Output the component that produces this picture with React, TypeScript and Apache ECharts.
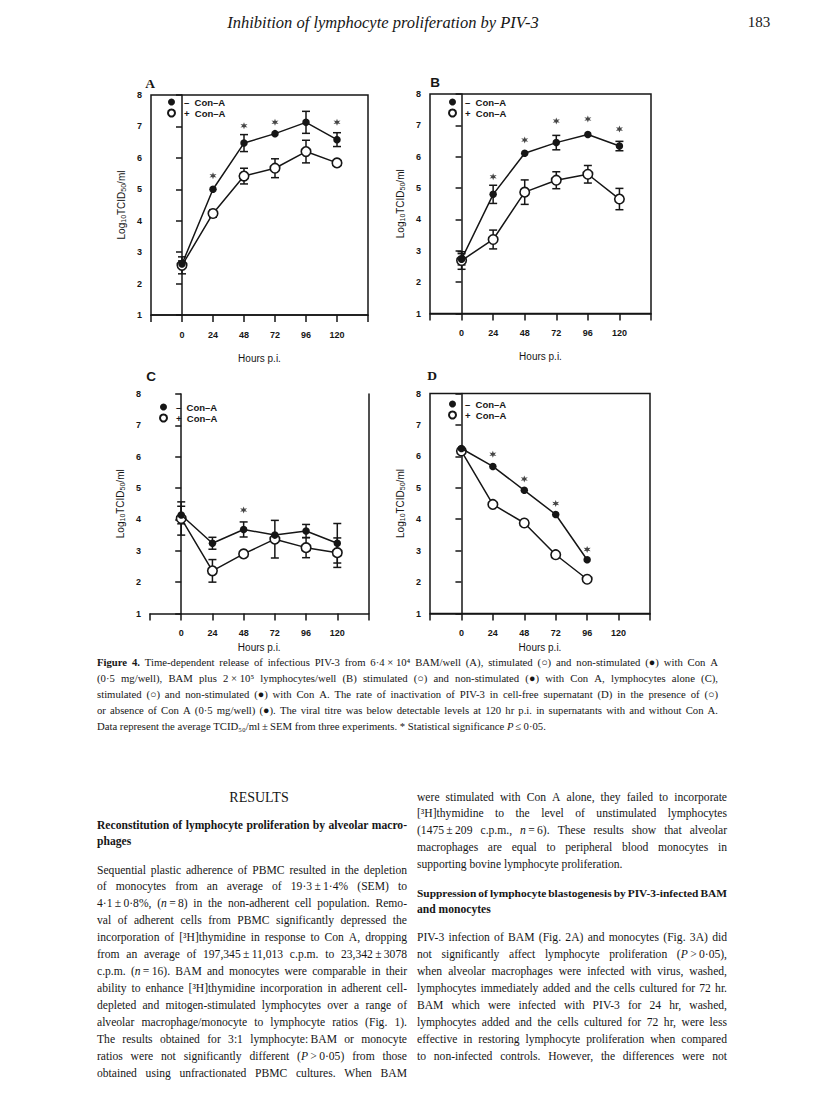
import React, { useEffect, useRef } from "react";
import * as echarts from "echarts";

// ---------------- DATA ----------------
const HOURS = [0, 24, 48, 72, 96, 120];
const HOURS_D = [0, 24, 48, 72, 96];
const X_TICK_LABELS = ["0", "24", "48", "72", "96", "120"];

const A_MINUS = [2.62, 5.0, 6.47, 6.77, 7.13, 6.58];
const A_MINUS_ERR = [0.1, 0, 0.27, 0, 0.35, 0.22];
const A_PLUS = [2.58, 4.23, 5.42, 5.67, 6.2, 5.84];
const A_PLUS_ERR = [0.27, 0.12, 0.25, 0.3, 0.36, 0];
const A_STARS = [[24, 5.43], [48, 7.02], [72, 7.13], [120, 7.13]];

const B_MINUS = [2.73, 4.8, 6.11, 6.45, 6.71, 6.34];
const B_MINUS_ERR = [0.18, 0.29, 0, 0.23, 0, 0.15];
const B_PLUS = [2.69, 3.36, 4.87, 5.25, 5.44, 4.65];
const B_PLUS_ERR = [0.28, 0.3, 0.39, 0.27, 0.28, 0.34];
const B_STARS = [[24, 5.36], [48, 6.53], [72, 7.14], [96, 7.2], [120, 6.88]];

const C_MINUS = [4.14, 3.24, 3.68, 3.5, 3.63, 3.24];
const C_MINUS_ERR = [0.28, 0.19, 0.24, 0, 0.21, 0.63];
const C_PLUS = [4.03, 2.36, 2.9, 3.37, 3.1, 2.94];
const C_PLUS_ERR = [0.53, 0.36, 0, 0.6, 0.32, 0.47];
const C_STARS = [[48, 4.3]];

const D_MINUS = [6.25, 5.68, 4.92, 4.15, 2.71];
const D_PLUS = [6.17, 4.47, 3.88, 2.87, 2.09];
const D_STARS = [[24, 6.07], [48, 5.28], [72, 4.5], [96, 3.04]];

const SERIES_MINUS = "–  Con–A";
const SERIES_PLUS = "+  Con–A";

const HEADER = "Inhibition of lymphocyte proliferation by PIV-3";
const PAGE_NO = "183";

const CAPTION = [
  "{b|Figure} {b|4.} Time-dependent release of infectious PIV-3 from 6·4\u00a0×\u00a010⁴ BAM/well (A), stimulated (○) and non-stimulated (●) with Con A",
  "(0·5 mg/well), BAM plus 2\u00a0×\u00a010⁵ lymphocytes/well (B) stimulated (○) and non-stimulated (●) with Con A, lymphocytes alone (C),",
  "stimulated (○) and non-stimulated (●) with Con A. The rate of inactivation of PIV-3 in cell-free supernatant (D) in the presence of (○)",
  "or absence of Con A (0·5 mg/well) (●). The viral titre was below detectable levels at 120 hr p.i. in supernatants with and without Con A.",
  "Data represent the average TCID₅₀/ml\u2009±\u2009SEM from three experiments. * Statistical significance {i|P}\u2009≤\u20090·05.",
];

const LEFT_HEAD = ["Reconstitution of lymphocyte proliferation by alveolar macro-", "phages"];
const LEFT_PARA = [
  "Sequential plastic adherence of PBMC resulted in the depletion",
  "of monocytes from an average of 19·3\u2009±\u20091·4% (SEM) to",
  "4·1\u2009±\u20090·8%, ({i|n}\u2009=\u20098) in the non-adherent cell population. Remo-",
  "val of adherent cells from PBMC significantly depressed the",
  "incorporation of [³H]thymidine in response to Con A, dropping",
  "from an average of 197,345\u2009±\u200911,013 c.p.m. to 23,342\u2009±\u20093078",
  "c.p.m. ({i|n}\u2009=\u200916). BAM and monocytes were comparable in their",
  "ability to enhance [³H]thymidine incorporation in adherent cell-",
  "depleted and mitogen-stimulated lymphocytes over a range of",
  "alveolar macrophage/monocyte to lymphocyte ratios (Fig. 1).",
  "The results obtained for 3:1 lymphocyte:\u2009BAM or monocyte",
  "ratios were not significantly different ({i|P}\u2009>\u20090·05) from those",
  "obtained using unfractionated PBMC cultures. When BAM",
];
const RIGHT_TOP = [
  "were stimulated with Con A alone, they failed to incorporate",
  "[³H]thymidine to the level of unstimulated lymphocytes",
  "(1475\u2009±\u2009209 c.p.m., {i|n}\u2009=\u20096). These results show that alveolar",
  "macrophages are equal to peripheral blood monocytes in",
  "supporting bovine lymphocyte proliferation.",
];
const RIGHT_HEAD = ["Suppression of lymphocyte blastogenesis by PIV-3-infected BAM", "and monocytes"];
const RIGHT_PARA = [
  "PIV-3 infection of BAM (Fig. 2A) and monocytes (Fig. 3A) did",
  "not significantly affect lymphocyte proliferation ({i|P}\u2009>\u20090·05),",
  "when alveolar macrophages were infected with virus, washed,",
  "lymphocytes immediately added and the cells cultured for 72 hr.",
  "BAM which were infected with PIV-3 for 24 hr, washed,",
  "lymphocytes added and the cells cultured for 72 hr, were less",
  "effective in restoring lymphocyte proliferation when compared",
  "to non-infected controls. However, the differences were not",
];

// ---------------- STYLE ----------------
const SERIF = '"Liberation Serif", "Times New Roman", serif';
const SANS = '"Liberation Sans", Arial, sans-serif';
const INK = "#161616";

// asterisk symbol
const starPts: string[] = [];
for (let k = 0; k < 12; k++) {
  const a = ((k * 30 - 90) * Math.PI) / 180;
  const r = k % 2 === 0 ? 10 : 4.2;
  starPts.push(`${(r * Math.cos(a)).toFixed(2)},${(r * Math.sin(a)).toFixed(2)}`);
}
const STAR = "path://M" + starPts.join(" L") + " Z";

// ---------------- TEXT LAYOUT ----------------
type Seg = { t: string; italic?: boolean; bold?: boolean };
let measureCtx: CanvasRenderingContext2D | null = null;
function measure(text: string, font: string) {
  if (!measureCtx) measureCtx = document.createElement("canvas").getContext("2d");
  measureCtx!.font = font;
  return measureCtx!.measureText(text).width;
}
function parseWord(w: string, baseBold: boolean): Seg[] {
  const segs: Seg[] = [];
  const re = /\{(i|b)\|([^}]*)\}/g;
  let last = 0;
  let m: RegExpExecArray | null;
  while ((m = re.exec(w))) {
    if (m.index > last) segs.push({ t: w.slice(last, m.index), bold: baseBold });
    segs.push({ t: m[2], italic: m[1] === "i", bold: m[1] === "b" || baseBold });
    last = re.lastIndex;
  }
  if (last < w.length) segs.push({ t: w.slice(last), bold: baseBold });
  return segs;
}
function fontOf(s: Seg, size: number) {
  return `${s.italic ? "italic " : ""}${s.bold ? "bold " : ""}${size}px ${SERIF}`;
}
function layoutLine(
  line: string, x: number, y: number, width: number, justify: boolean, baseSize: number, bold = false
) {
  const words = line.split(" ").map((w) => parseWord(w, bold));
  let size = baseSize;
  let gap = 0;
  for (let iter = 0; iter < 40; iter++) {
    const total = words
      .map((segs) => segs.reduce((acc, s) => acc + measure(s.t, fontOf(s, size)), 0))
      .reduce((a, b) => a + b, 0);
    const space = measure(" ", `${bold ? "bold " : ""}${size}px ${SERIF}`);
    gap = justify && words.length > 1 ? (width - total) / (words.length - 1) : space;
    if (!justify || gap >= space * 0.62) break;
    size -= 0.1;
  }
  const els: any[] = [];
  let cx = x;
  words.forEach((segs, wi) => {
    segs.forEach((s) => {
      els.push({
        type: "text",
        x: cx,
        y,
        silent: true,
        style: {
          text: s.t,
          fontSize: size,
          fontFamily: SERIF,
          fontWeight: s.bold ? "bold" : "normal",
          fontStyle: s.italic ? "italic" : "normal",
          fill: INK,
          align: "left",
          verticalAlign: "middle",
        },
      });
      cx += measure(s.t, fontOf(s, size));
    });
    if (wi < words.length - 1) cx += gap;
  });
  return els;
}

// ---------------- CHART HELPERS ----------------
const GRIDS = [
  { left: 151, top: 95, width: 217, height: 220 },
  { left: 430, top: 94, width: 221, height: 219.5 },
  { left: 150, top: 394, width: 218.5, height: 219.5 },
  { left: 430, top: 393.5, width: 220, height: 220 },
];
const NAME_GAP_X = [38, 38, 29, 29];

function pairs(xs: number[], ys: number[]) {
  return xs.map((x, i) => [x, ys[i]]);
}

function errSeries(idx: number, xs: number[], ys: number[], errs: number[]) {
  return {
    type: "custom",
    xAxisIndex: idx,
    yAxisIndex: idx,
    z: 2,
    silent: true,
    data: xs
      .map((x, i) => [x, ys[i] - errs[i], ys[i] + errs[i], errs[i]])
      .filter((d) => d[3] > 0),
    encode: { x: 0, y: [1, 2] },
    renderItem: (_params: any, api: any) => {
      const x = api.value(0);
      const lo = api.coord([x, api.value(1)]);
      const hi = api.coord([x, api.value(2)]);
      const hw = 4;
      const st = { stroke: INK, lineWidth: 1.5 };
      return {
        type: "group",
        children: [
          { type: "line", shape: { x1: lo[0], y1: lo[1], x2: hi[0], y2: hi[1] }, style: st },
          { type: "line", shape: { x1: lo[0] - hw, y1: lo[1], x2: lo[0] + hw, y2: lo[1] }, style: st },
          { type: "line", shape: { x1: hi[0] - hw, y1: hi[1], x2: hi[0] + hw, y2: hi[1] }, style: st },
        ],
      };
    },
  };
}

function panelSeries(
  idx: number, xs: number[], minus: number[], plus: number[],
  minusErr: number[] | null, plusErr: number[] | null, stars: number[][]
) {
  const out: any[] = [
    {
      name: SERIES_PLUS,
      type: "line",
      xAxisIndex: idx,
      yAxisIndex: idx,
      data: pairs(xs, plus),
      symbol: "circle",
      symbolSize: 9.5,
      itemStyle: { color: "#fff", borderColor: INK, borderWidth: 1.6 },
      lineStyle: { color: INK, width: 1.5 },
      z: 3,
      silent: true,
    },
    {
      name: SERIES_MINUS,
      type: "line",
      xAxisIndex: idx,
      yAxisIndex: idx,
      data: pairs(xs, minus),
      symbol: "circle",
      symbolSize: 7.5,
      itemStyle: { color: INK },
      lineStyle: { color: INK, width: 1.5 },
      z: 4,
      silent: true,
    },
    {
      type: "scatter",
      xAxisIndex: idx,
      yAxisIndex: idx,
      data: stars,
      symbol: STAR,
      symbolSize: 7,
      itemStyle: { color: INK },
      z: 5,
      silent: true,
    },
  ];
  if (minusErr) out.push(errSeries(idx, xs, minus, minusErr));
  if (plusErr) out.push(errSeries(idx, xs, plus, plusErr));
  return out;
}

function buildOption() {
  const xAxes = GRIDS.map((_, i) => ({
    type: "value",
    gridIndex: i,
    min: -24,
    max: 144,
    interval: 24,
    axisLine: { show: true, lineStyle: { color: INK, width: 1.5 } },
    axisTick: { show: true, length: 7, lineStyle: { color: INK, width: 1.5 } },
    axisLabel: {
      formatter: (v: number) => {
        const k = HOURS.indexOf(v);
        return k >= 0 ? X_TICK_LABELS[k] : "";
      },
      fontSize: 9,
      fontWeight: "bold",
      fontFamily: SANS,
      color: INK,
      margin: 15,
    },
    splitLine: { show: false },
    name: "Hours p.i.",
    nameLocation: "middle",
    nameGap: NAME_GAP_X[i],
    nameTextStyle: { fontSize: 10, fontFamily: SANS, color: INK },
  }));
  const yAxes: any[] = GRIDS.map((_, i) => ({
    type: "value",
    gridIndex: i,
    min: 1,
    max: 8,
    interval: 1,
    axisLine: { show: true, lineStyle: { color: INK, width: 1.5 } },
    axisTick: { show: true, length: 6, lineStyle: { color: INK, width: 1.5 } },
    axisLabel: { fontSize: 9, fontWeight: "bold", fontFamily: SANS, color: INK, margin: 9 },
    splitLine: { show: false },
    name: "Log{s|10}TCID{s|50}/ml",
    nameLocation: "middle",
    nameRotate: 90,
    nameGap: 24,
    nameTextStyle: {
      fontSize: 10,
      fontFamily: SANS,
      color: INK,
      rich: { s: { fontSize: 7, fontFamily: SANS, color: INK, padding: [5, 0, 0, 0] } },
    },
  }));
  // right border of panel C
  yAxes.push({
    type: "value",
    gridIndex: 2,
    position: "right",
    min: 1,
    max: 8,
    interval: 1,
    axisLine: { show: true, lineStyle: { color: INK, width: 1.5 } },
    axisTick: { show: false },
    axisLabel: { show: false },
    splitLine: { show: false },
  });

  const legendPos = [
    { left: 167, top: 97 },
    { left: 448, top: 97 },
    { left: 159, top: 402 },
    { left: 448, top: 399 },
  ];
  const legends = legendPos.map((p) => ({
    ...p,
    orient: "vertical",
    itemWidth: 7,
    itemHeight: 7,
    itemGap: 1,
    padding: 0,
    selectedMode: false,
    icon: "circle",
    data: [SERIES_MINUS, SERIES_PLUS],
    textStyle: { fontSize: 9.5, fontWeight: "bold", fontFamily: SANS, color: INK, padding: [0, 0, 0, 4] },
  }));

  const series = [
    ...panelSeries(0, HOURS, A_MINUS, A_PLUS, A_MINUS_ERR, A_PLUS_ERR, A_STARS),
    ...panelSeries(1, HOURS, B_MINUS, B_PLUS, B_MINUS_ERR, B_PLUS_ERR, B_STARS),
    ...panelSeries(2, HOURS, C_MINUS, C_PLUS, C_MINUS_ERR, C_PLUS_ERR, C_STARS),
    ...panelSeries(3, HOURS_D, D_MINUS, D_PLUS, null, null, D_STARS),
  ];

  // page text
  const g: any[] = [];
  g.push({
    type: "text", x: 383, y: 22, silent: true,
    style: { text: HEADER, fontSize: 16.5, fontStyle: "italic", fontFamily: SERIF, fill: INK, align: "center", verticalAlign: "middle" },
  });
  g.push({
    type: "text", x: 759, y: 22, silent: true,
    style: { text: PAGE_NO, fontSize: 15, fontFamily: SERIF, fill: INK, align: "center", verticalAlign: "middle" },
  });
  const letters = [
    { t: "A", x: 150, y: 83, f: SERIF },
    { t: "B", x: 435, y: 82, f: SANS },
    { t: "C", x: 151, y: 376, f: SANS },
    { t: "D", x: 432, y: 375, f: SERIF },
  ];
  letters.forEach((l) =>
    g.push({
      type: "text", x: l.x, y: l.y, silent: true,
      style: { text: l.t, fontSize: 13.5, fontWeight: "bold", fontFamily: l.f, fill: INK, align: "center", verticalAlign: "middle" },
    })
  );
  const capSize = 10.7;
  CAPTION.forEach((ln, i) => {
    g.push(...layoutLine(ln, 97, 662 + i * 16, 621, i < CAPTION.length - 1, capSize));
  });
  g.push({
    type: "text", x: 259, y: 797, silent: true,
    style: { text: "RESULTS", fontSize: 14, fontFamily: SERIF, fill: INK, align: "center", verticalAlign: "middle" },
  });
  const bodySize = 11.6;
  g.push(...layoutLine(LEFT_HEAD[0], 97, 825, 310, true, bodySize, true));
  g.push(...layoutLine(LEFT_HEAD[1], 97, 841, 310, false, bodySize, true));
  LEFT_PARA.forEach((ln, i) => g.push(...layoutLine(ln, 97, 870 + i * 16.95, 310, true, bodySize)));
  RIGHT_TOP.forEach((ln, i) =>
    g.push(...layoutLine(ln, 417, 797 + i * 16.95, 310, i < RIGHT_TOP.length - 1, bodySize))
  );
  g.push(...layoutLine(RIGHT_HEAD[0], 417, 893, 310, true, bodySize, true));
  g.push(...layoutLine(RIGHT_HEAD[1], 417, 909.5, 310, false, bodySize, true));
  RIGHT_PARA.forEach((ln, i) => g.push(...layoutLine(ln, 417, 870 + (i + 4) * 16.95, 310, true, bodySize)));

  return {
    animation: false,
    backgroundColor: "#ffffff",
    grid: GRIDS.map((gr, i) => ({
      ...gr,
      show: i !== 2,
      borderColor: INK,
      borderWidth: 1.5,
      backgroundColor: "transparent",
    })),
    xAxis: xAxes,
    yAxis: yAxes,
    legend: legends,
    series,
    graphic: g,
  };
}

export default function App() {
  const ref = useRef<HTMLDivElement>(null);
  useEffect(() => {
    if (!ref.current) return;
    const chart = echarts.init(ref.current, undefined, { renderer: "svg" });
    chart.setOption(buildOption() as any);
    return () => chart.dispose();
  }, []);
  return (
    <div
      ref={ref}
      style={{ position: "absolute", left: 0, top: 0, width: 816, height: 1114, background: "#fff" }}
    />
  );
}
